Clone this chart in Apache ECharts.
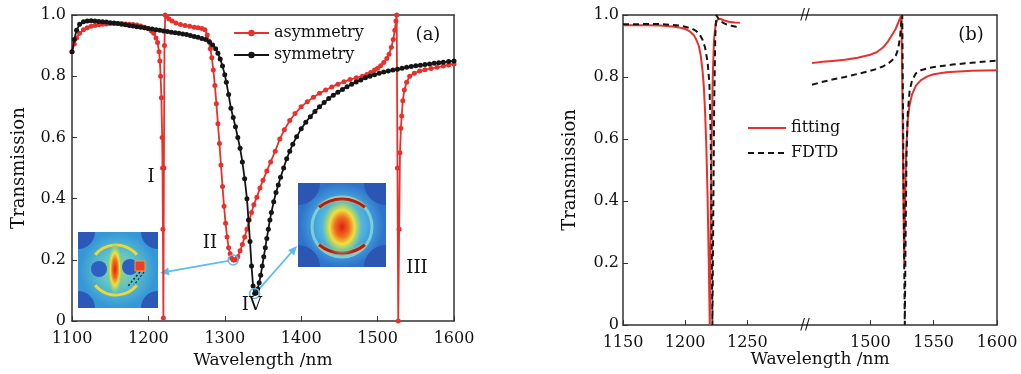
<!DOCTYPE html>
<html>
<head>
<meta charset="utf-8">
<script src="https://cdn.jsdelivr.net/npm/echarts@6/dist/echarts.min.js"></script>
<style>
  html, body { margin: 0; padding: 0; background: #fff; }
  #chart { width: 1021px; height: 374px; }
</style>
</head>
<body>
<div id="chart"></div>
<script>
const FONT = "'DejaVu Serif', 'Liberation Serif', serif";
const RED = '#e8312c';
const BLACK = '#151515';
const BLUE = '#5cbde8';

// panel (a): asymmetry (red dots)
const asymWl = [1100, 1103, 1106, 1110, 1115, 1120, 1125, 1130, 1135, 1140, 1145, 1150, 1155, 1160, 1165, 1170, 1175, 1180, 1185, 1190, 1195, 1200, 1204, 1207, 1210, 1212, 1214, 1215, 1216, 1217, 1218, 1218.5, 1219, 1219.6, 1220.3, 1221, 1222, 1224, 1227, 1231, 1236, 1242, 1248, 1254, 1260, 1265, 1270, 1274, 1277, 1279, 1281, 1283, 1285, 1287, 1289, 1291, 1293, 1295, 1297, 1299, 1301, 1303, 1305, 1307, 1309, 1311, 1313, 1315, 1317, 1320, 1323, 1326, 1329, 1332, 1335, 1338, 1342, 1346, 1350, 1355, 1360, 1366, 1372, 1378, 1385, 1392, 1400, 1408, 1416, 1424, 1432, 1440, 1448, 1456, 1464, 1472, 1480, 1486, 1491, 1496, 1500, 1504, 1508, 1512, 1515, 1518, 1520.5, 1522.5, 1524, 1525, 1526, 1527, 1528.2, 1529.3, 1530.5, 1531.5, 1533, 1535, 1538, 1542, 1548, 1555, 1562, 1570, 1578, 1586, 1593, 1600];
const asymT = [0.88, 0.905, 0.925, 0.94, 0.952, 0.958, 0.963, 0.966, 0.968, 0.97, 0.971, 0.972, 0.972, 0.972, 0.972, 0.971, 0.97, 0.969, 0.967, 0.964, 0.96, 0.955, 0.948, 0.94, 0.925, 0.91, 0.88, 0.85, 0.8, 0.73, 0.6, 0.5, 0.3, 0.01, 0.5, 0.9, 1.0, 0.995, 0.987, 0.98, 0.974, 0.969, 0.966, 0.963, 0.96, 0.958, 0.956, 0.952, 0.935, 0.915, 0.89, 0.86, 0.82, 0.77, 0.71, 0.645, 0.58, 0.51, 0.44, 0.375, 0.32, 0.275, 0.24, 0.22, 0.205, 0.2, 0.2, 0.203, 0.21, 0.23, 0.25, 0.275, 0.3, 0.33, 0.355, 0.38, 0.405, 0.435, 0.46, 0.49, 0.52, 0.555, 0.595, 0.625, 0.655, 0.678, 0.7, 0.717, 0.731, 0.744, 0.755, 0.765, 0.774, 0.782, 0.789, 0.795, 0.8, 0.806, 0.812, 0.82, 0.826, 0.834, 0.845, 0.858, 0.872, 0.895, 0.92, 0.95, 0.98, 1.0, 0.5, 0.0, 0.3, 0.55, 0.63, 0.67, 0.72, 0.755, 0.78, 0.8, 0.81, 0.817, 0.821, 0.825, 0.829, 0.833, 0.837, 0.84];

// panel (a): symmetry (black dots)
const symWl = [1100, 1103, 1106, 1110, 1115, 1120, 1125, 1130, 1135, 1140, 1145, 1150, 1155, 1160, 1165, 1170, 1175, 1180, 1185, 1190, 1195, 1200, 1205, 1210, 1215, 1220, 1225, 1230, 1235, 1240, 1245, 1250, 1255, 1260, 1265, 1270, 1275, 1280, 1284, 1288, 1291, 1294, 1297, 1300, 1302, 1305, 1308, 1311, 1314, 1317, 1320, 1323, 1326, 1329, 1331, 1333, 1335, 1337, 1339, 1341, 1343, 1345, 1347, 1349, 1351, 1353, 1355, 1357, 1359, 1361, 1364, 1367, 1370, 1373, 1377, 1381, 1385, 1389, 1394, 1400, 1406, 1412, 1418, 1424, 1430, 1436, 1442, 1448, 1454, 1460, 1466, 1472, 1478, 1484, 1490, 1496, 1502, 1508, 1514, 1520, 1526, 1532, 1538, 1544, 1550, 1556, 1562, 1568, 1574, 1580, 1586, 1593, 1600];
const symT = [0.88, 0.92, 0.95, 0.97, 0.978, 0.98, 0.981, 0.98, 0.979, 0.978, 0.977, 0.975, 0.974, 0.972, 0.97, 0.968, 0.966, 0.964, 0.962, 0.96, 0.958, 0.956, 0.954, 0.952, 0.95, 0.948, 0.946, 0.944, 0.942, 0.94, 0.938, 0.936, 0.933, 0.93, 0.927, 0.923, 0.92, 0.912, 0.902, 0.89, 0.875, 0.856, 0.833, 0.805, 0.78, 0.74, 0.695, 0.665, 0.635, 0.6, 0.565, 0.52, 0.465, 0.4, 0.33, 0.26, 0.18, 0.115, 0.09, 0.092, 0.105, 0.125, 0.15, 0.18, 0.21, 0.24, 0.27, 0.3, 0.33, 0.355, 0.39, 0.42, 0.445, 0.47, 0.5, 0.53, 0.555, 0.578, 0.602, 0.628, 0.65, 0.668, 0.685, 0.7, 0.714, 0.727, 0.738, 0.748, 0.757, 0.766, 0.774, 0.781, 0.788, 0.795, 0.8, 0.805, 0.81, 0.814, 0.817, 0.82, 0.823, 0.826, 0.829, 0.832, 0.834, 0.836, 0.838, 0.84, 0.842, 0.844, 0.846, 0.848, 0.85];

// panel (b): fitting (red solid), left and right of the axis break
const fitWlL = [1150, 1160, 1170, 1180, 1190, 1195, 1200, 1204, 1207, 1209, 1211, 1212.5, 1214, 1215, 1216, 1217, 1218, 1219, 1219.8, 1220.5, 1221.3, 1222.2, 1223.2, 1224.5, 1226, 1228, 1231, 1235, 1240, 1244];
const fitTL = [0.967, 0.967, 0.967, 0.966, 0.963, 0.96, 0.955, 0.946, 0.935, 0.92, 0.9, 0.87, 0.82, 0.77, 0.69, 0.58, 0.42, 0.2, 0.0, 0.3, 0.6, 0.8, 0.92, 0.97, 0.985, 0.988, 0.983, 0.978, 0.976, 0.975];
const fitWlR = [1454, 1460, 1470, 1480, 1490, 1500, 1505, 1510, 1514, 1517, 1520, 1522, 1523.5, 1524.5, 1525.3, 1526, 1526.8, 1527.5, 1528.2, 1529.5, 1531, 1533, 1536, 1540, 1545, 1550, 1560, 1570, 1580, 1590, 1600];
const fitTR = [0.845, 0.848, 0.852, 0.856, 0.862, 0.872, 0.88, 0.895, 0.915, 0.935, 0.955, 0.975, 0.99, 1.0, 0.75, 0.45, 0.2, 0.4, 0.55, 0.66, 0.71, 0.745, 0.772, 0.79, 0.802, 0.809, 0.815, 0.818, 0.82, 0.821, 0.822];

// panel (b): FDTD (black dashed)
const fdtdWlL = [1150, 1160, 1170, 1180, 1190, 1195, 1200, 1205, 1209, 1212, 1214, 1216, 1218, 1219.5, 1220.5, 1221.3, 1221.9, 1222.6, 1223.3, 1224.2, 1225, 1226.5, 1229, 1233, 1237, 1241, 1244];
const fdtdTL = [0.97, 0.97, 0.971, 0.971, 0.968, 0.966, 0.962, 0.957, 0.948, 0.935, 0.92, 0.895, 0.85, 0.78, 0.62, 0.3, 0.0, 0.35, 0.7, 0.93, 1.0, 0.99, 0.978, 0.97, 0.965, 0.962, 0.96];
const fdtdWlR = [1454, 1460, 1470, 1480, 1490, 1500, 1505, 1510, 1514, 1517, 1520, 1522, 1523.5, 1524.5, 1525.2, 1525.8, 1526.5, 1527.2, 1527.9, 1528.6, 1529.5, 1531, 1533, 1536, 1540, 1547, 1555, 1565, 1580, 1600];
const fdtdTR = [0.775, 0.782, 0.792, 0.8, 0.81, 0.82, 0.826, 0.834, 0.843, 0.853, 0.868, 0.89, 0.93, 0.98, 1.0, 0.7, 0.3, 0.0, 0.3, 0.55, 0.68, 0.755, 0.79, 0.812, 0.822, 0.83, 0.835, 0.84, 0.846, 0.853];

const xTicksA = [1100, 1200, 1300, 1400, 1500, 1600];
const xTicksBL = [1150, 1200, 1250];
const xTicksBR = [1500, 1550, 1600];
const yTicks = [0, 0.2, 0.4, 0.6, 0.8, 1.0];

const pair = (xs, ys) => xs.map((x, i) => [x, ys[i]]);
const yFmt = v => (v === 0 ? '0' : v.toFixed(1));
const xFmt = v => String(v);

const axisLine = { show: true, onZero: false, lineStyle: { color: '#333', width: 1.5 } };
const labelStyle = { color: '#111', fontFamily: FONT, fontSize: 16 };

function mainX(gridIndex, min, max, ticks, extra) {
  return Object.assign({
    type: 'value', gridIndex, min, max, position: 'bottom',
    axisLine,
    axisTick: { inside: true, length: 5, lineStyle: { color: '#333' }, customValues: ticks },
    axisLabel: Object.assign({ margin: 10, customValues: ticks, formatter: xFmt }, labelStyle),
    splitLine: { show: false }
  }, extra || {});
}
function frameAxis(gridIndex, position, min, max) {
  return {
    type: 'value', gridIndex, position, min, max,
    axisLine, axisTick: { show: false }, axisLabel: { show: false }, splitLine: { show: false }
  };
}
function mainY(gridIndex, margin) {
  return {
    type: 'value', gridIndex, min: 0, max: 1, position: 'left',
    name: 'Transmission', nameLocation: 'middle', nameGap: 44,
    nameTextStyle: { color: '#111', fontFamily: FONT, fontSize: 18 },
    axisLine,
    axisTick: { inside: true, length: 5, lineStyle: { color: '#333' }, customValues: yTicks },
    axisLabel: Object.assign({ margin, customValues: yTicks, formatter: yFmt }, labelStyle),
    splitLine: { show: false }
  };
}

const chart = echarts.init(document.getElementById('chart'));

const option = {
  animation: false,
  backgroundColor: '#fff',
  grid: [
    { left: 72, top: 15, width: 382, height: 310 },
    { left: 623, top: 15, width: 184, height: 310 },
    { left: 807, top: 15, width: 190, height: 310 }
  ],
  xAxis: [
    mainX(0, 1100, 1600, xTicksA, {
      name: 'Wavelength /nm', nameLocation: 'middle', nameGap: 26,
      nameTextStyle: { color: '#111', fontFamily: FONT, fontSize: 17 }
    }),
    frameAxis(0, 'top', 1100, 1600),
    mainX(1, 1150, 1298, xTicksBL),
    frameAxis(1, 'top', 1150, 1298),
    mainX(2, 1450, 1600, xTicksBR),
    frameAxis(2, 'top', 1450, 1600)
  ],
  yAxis: [
    mainY(0, 6),
    frameAxis(0, 'right', 0, 1),
    mainY(1, 4),
    frameAxis(2, 'right', 0, 1)
  ],
  legend: [
    {
      left: 233, top: 25, orient: 'vertical', padding: 0,
      itemWidth: 35, itemHeight: 8, itemGap: 6,
      textStyle: { color: '#111', fontFamily: FONT, fontSize: 16, lineHeight: 14 },
      data: ['asymmetry', 'symmetry']
    },
    {
      left: 747, top: 120, orient: 'vertical', padding: 0,
      itemWidth: 38, itemHeight: 10, itemGap: 9,
      itemStyle: { opacity: 0 },
      textStyle: { color: '#111', fontFamily: FONT, fontSize: 16, lineHeight: 14 },
      data: ['fitting', 'FDTD']
    }
  ],
  series: [
    {
      name: 'asymmetry', type: 'line', xAxisIndex: 0, yAxisIndex: 0,
      data: pair(asymWl, asymT), symbol: 'circle', symbolSize: 5, showAllSymbol: true,
      itemStyle: { color: RED }, lineStyle: { color: RED, width: 1.8 }, z: 3
    },
    {
      name: 'symmetry', type: 'line', xAxisIndex: 0, yAxisIndex: 0,
      data: pair(symWl, symT), symbol: 'circle', symbolSize: 5, showAllSymbol: true,
      itemStyle: { color: BLACK }, lineStyle: { color: BLACK, width: 1.8 }, z: 4
    },
    {
      name: 'fitting', type: 'line', xAxisIndex: 2, yAxisIndex: 2,
      data: pair(fitWlL, fitTL), showSymbol: false, symbol: 'none',
      itemStyle: { color: RED }, lineStyle: { color: RED, width: 2 }, z: 3
    },
    {
      name: 'FDTD', type: 'line', xAxisIndex: 2, yAxisIndex: 2,
      data: pair(fdtdWlL, fdtdTL), showSymbol: false, symbol: 'none',
      itemStyle: { color: BLACK }, lineStyle: { color: BLACK, width: 2, type: [6, 4] }, z: 4
    },
    {
      name: 'fitting', type: 'line', xAxisIndex: 4, yAxisIndex: 3,
      data: pair(fitWlR, fitTR), showSymbol: false, symbol: 'none',
      itemStyle: { color: RED }, lineStyle: { color: RED, width: 2 }, z: 3
    },
    {
      name: 'FDTD', type: 'line', xAxisIndex: 4, yAxisIndex: 3,
      data: pair(fdtdWlR, fdtdTR), showSymbol: false, symbol: 'none',
      itemStyle: { color: BLACK }, lineStyle: { color: BLACK, width: 2, type: [6, 4] }, z: 4
    }
  ]
};
chart.setOption(option);

// ---- annotations (insets, arrows, labels) ----
const px = (x, y) => chart.convertToPixel({ seriesIndex: 0 }, [x, y]);

function radial(stops) {
  return { type: 'radial', x: 0.5, y: 0.5, r: 0.5, colorStops: stops };
}
function corners(w, h, r, color) {
  const P = Math.PI;
  return [
    [0, 0, 0, P / 2], [w, 0, P / 2, P], [w, h, P, 1.5 * P], [0, h, 1.5 * P, 2 * P]
  ].map(c => ({
    type: 'sector', shape: { cx: c[0], cy: c[1], r, r0: 0, startAngle: c[2], endAngle: c[3] },
    style: { fill: color }
  }));
}
const hotSpot = radial([
  { offset: 0, color: '#e02010' }, { offset: 0.35, color: '#f07020' },
  { offset: 0.6, color: '#f0e040' }, { offset: 0.85, color: 'rgba(140,210,120,0.6)' },
  { offset: 1, color: 'rgba(90,190,210,0)' }
]);

const inset1 = {
  type: 'group', x: 78, y: 232,
  children: [
    { type: 'rect', shape: { x: 0, y: 0, width: 80, height: 76 },
      style: { fill: radial([{ offset: 0, color: '#a9d86a' }, { offset: 0.45, color: '#60c4c8' }, { offset: 1, color: '#3596d8' }]) } },
    ...corners(80, 76, 17, '#2c58b8'),
    { type: 'circle', shape: { cx: 21, cy: 37, r: 8 }, style: { fill: '#2d5fc4' } },
    { type: 'circle', shape: { cx: 52, cy: 35, r: 8 }, style: { fill: '#2d5fc4' } },
    { type: 'arc', shape: { cx: 38, cy: 40, r: 27, startAngle: 1.22 * Math.PI, endAngle: 1.78 * Math.PI },
      style: { stroke: '#ecd838', lineWidth: 3, fill: 'none' } },
    { type: 'arc', shape: { cx: 38, cy: 36, r: 27, startAngle: 0.22 * Math.PI, endAngle: 0.78 * Math.PI },
      style: { stroke: '#ecd838', lineWidth: 3, fill: 'none' } },
    { type: 'circle', x: 37, y: 37, scaleX: 0.55, scaleY: 1.9, shape: { cx: 0, cy: 0, r: 14 }, style: { fill: hotSpot } },
    { type: 'rect', shape: { x: 57, y: 29, width: 10, height: 10 }, style: { fill: '#e8402a', stroke: '#f0a030', lineWidth: 1 } },
    { type: 'line', shape: { x1: 62, y1: 40, x2: 50, y2: 54 }, style: { stroke: '#222', lineWidth: 1.5, lineDash: [2, 2] } },
    { type: 'line', shape: { x1: 66, y1: 40, x2: 56, y2: 53 }, style: { stroke: '#222', lineWidth: 1.2, lineDash: [2, 2] } }
  ]
};
const inset2 = {
  type: 'group', x: 298, y: 183,
  children: [
    { type: 'rect', shape: { x: 0, y: 0, width: 88, height: 84 },
      style: { fill: radial([{ offset: 0, color: '#7fd4d8' }, { offset: 0.55, color: '#4cb0e0' }, { offset: 1, color: '#2f74cc' }]) } },
    ...corners(88, 84, 22, '#2b56b4'),
    { type: 'circle', shape: { cx: 44, cy: 44, r: 30 }, style: { fill: 'none', stroke: 'rgba(150,225,220,0.7)', lineWidth: 3 } },
    { type: 'arc', shape: { cx: 44, cy: 52, r: 36, startAngle: 1.28 * Math.PI, endAngle: 1.72 * Math.PI },
      style: { stroke: '#b81a14', lineWidth: 3, fill: 'none', shadowBlur: 3, shadowColor: '#f0d030' } },
    { type: 'arc', shape: { cx: 44, cy: 34, r: 36, startAngle: 0.28 * Math.PI, endAngle: 0.72 * Math.PI },
      style: { stroke: '#b81a14', lineWidth: 3, fill: 'none', shadowBlur: 3, shadowColor: '#f0d030' } },
    { type: 'circle', x: 44, y: 44, scaleX: 0.8, scaleY: 1.1, shape: { cx: 0, cy: 0, r: 26 }, style: { fill: hotSpot } }
  ]
};

function arrow(p1, p2) {
  const dx = p2[0] - p1[0], dy = p2[1] - p1[1];
  const len = Math.hypot(dx, dy), ux = dx / len, uy = dy / len;
  const hl = 9, hw = 4;
  const bx = p2[0] - ux * hl, by = p2[1] - uy * hl;
  return [
    { type: 'line', shape: { x1: p1[0], y1: p1[1], x2: bx, y2: by }, style: { stroke: BLUE, lineWidth: 1.8 } },
    { type: 'polygon', shape: { points: [[p2[0], p2[1]], [bx - uy * hw, by + ux * hw], [bx + uy * hw, by - ux * hw]] },
      style: { fill: BLUE } }
  ];
}

const minII = px(1311, 0.2);
const minIV = px(1339, 0.09);
const serif = (text, x, y, size) => ({
  type: 'text', x, y, z: 20,
  style: { text, fill: '#111', font: size + 'px ' + FONT, textAlign: 'center', textVerticalAlign: 'middle' }
});
const bTop = chart.convertToPixel({ seriesIndex: 4 }, [1450, 1]);
const bBot = chart.convertToPixel({ seriesIndex: 4 }, [1450, 0]);

chart.setOption({
  graphic: [
    inset1, inset2,
    { type: 'circle', shape: { cx: minII[0], cy: minII[1], r: 5 }, style: { fill: 'none', stroke: BLUE, lineWidth: 1.5 }, z: 10 },
    { type: 'circle', shape: { cx: minIV[0], cy: minIV[1], r: 5 }, style: { fill: 'none', stroke: BLUE, lineWidth: 1.5 }, z: 10 },
    ...arrow([minII[0] - 5, minII[1] + 1], [160, 273]),
    ...arrow([minIV[0] + 4, minIV[1] - 4], [297, 246]),
    serif('I', ...px(1203.5, 0.47), 18),
    serif('II', ...px(1280.5, 0.255), 18),
    serif('IV', ...px(1335.5, 0.052), 18),
    serif('III', ...px(1551.5, 0.171), 18),
    serif('(a)', 428, 35, 18),
    serif('(b)', 971, 35, 18),
    serif('Wavelength /nm', 820, 360, 17),
    serif('//', bTop[0] - 2, bTop[1], 14),
    serif('//', bBot[0] - 2, bBot[1], 14)
  ]
});
</script>
</body>
</html>
